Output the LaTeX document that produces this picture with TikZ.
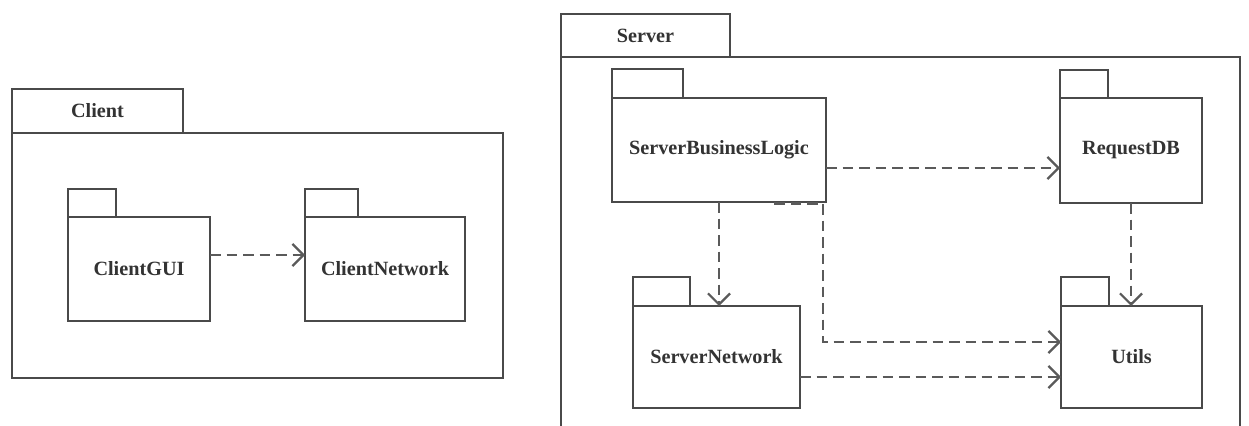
\documentclass[tikz,border=0pt]{standalone}
\usepackage{fontspec}
\setmainfont{Liberation Serif}
\usetikzlibrary{arrows.meta}

\definecolor{boxgray}{HTML}{4A4A4A}
\definecolor{depgray}{HTML}{5A5A5A}
\definecolor{textgray}{HTML}{333333}

\tikzset{
  pkg/.style={rectangle, draw=boxgray, line width=0.45mm, fill=white, inner sep=0pt, outer sep=0pt, anchor=north west},
  pkglabel/.style={font=\fontsize{11.5}{13}\selectfont\bfseries, text=textgray},
  dep/.style={draw=depgray, line width=0.45mm, dash pattern=on 2.1mm off 1.2mm, -{Straight Barb[length=2.2mm,width=4.4mm]}}
}

\begin{document}
\begin{tikzpicture}[x=0.2mm, y=-0.2mm]
\useasboundingbox (0,0) rectangle (1249,425);
\clip (0,0) rectangle (1249,425);

% Client
\node (clientTab) [pkg, minimum width=34.2mm, minimum height=8.8mm] at (12,89) {};
\node (client) [pkg, minimum width=98.2mm, minimum height=49mm] at (12,133) {};
\node [pkglabel] at (clientTab.center) {Client};

\node (guiTab) [pkg, minimum width=9.6mm, minimum height=5.6mm] at (68,189) {};
\node (gui) [pkg, minimum width=28.4mm, minimum height=20.8mm] at (68,217) {};
\node [pkglabel] at (gui.center) {ClientGUI};

\node (cnetTab) [pkg, minimum width=10.6mm, minimum height=5.6mm] at (305,189) {};
\node (cnet) [pkg, minimum width=32mm, minimum height=20.8mm] at (305,217) {};
\node [pkglabel] at (cnet.center) {ClientNetwork};

\draw [dep] ([yshift=2.8mm]gui.east) -- ([yshift=2.8mm]cnet.west);

% Server
\node (serverTab) [pkg, minimum width=33.8mm, minimum height=8.6mm] at (561,14) {};
\node (server) [pkg, minimum width=135.8mm, minimum height=80mm] at (561,57) {};
\node [pkglabel] at (serverTab.center) {Server};

\node (sblTab) [pkg, minimum width=14.2mm, minimum height=5.8mm] at (612,69) {};
\node (sbl) [pkg, minimum width=42.8mm, minimum height=20.8mm] at (612,98) {};
\node [pkglabel] at (sbl.center) {ServerBusinessLogic};

\node (reqdbTab) [pkg, minimum width=9.6mm, minimum height=5.6mm] at (1060,70) {};
\node (reqdb) [pkg, minimum width=28.4mm, minimum height=21mm] at (1060,98) {};
\node [pkglabel] at (reqdb.center) {RequestDB};

\node (srvnetTab) [pkg, minimum width=11.4mm, minimum height=5.8mm] at (633,277) {};
\node (srvnet) [pkg, minimum width=33.4mm, minimum height=20.4mm] at (633,306) {};
\node [pkglabel] at (srvnet.center) {ServerNetwork};

\node (utilsTab) [pkg, minimum width=9.6mm, minimum height=5.8mm] at (1061,277) {};
\node (utils) [pkg, minimum width=28.2mm, minimum height=20.4mm] at (1061,306) {};
\node [pkglabel] at (utils.center) {Utils};

\draw [dep] ([yshift=-3.6mm]sbl.east) -- ([yshift=-3.6mm]sbl.east -| reqdb.west);
\draw [dep] (sbl.south) -- (sbl.south |- srvnet.north);
\draw [dep] ([xshift=-10.4mm,yshift=-0.3mm]sbl.south east) -- ([xshift=-0.6mm,yshift=-0.3mm]sbl.south east) |- ([yshift=3mm]utils.west);
\draw [dep] ([yshift=-4mm]srvnet.east) -- ([yshift=-4mm]srvnet.east -| utils.west);
\draw [dep] (reqdb.south) -- (reqdb.south |- utils.north);
\end{tikzpicture}
\end{document}
